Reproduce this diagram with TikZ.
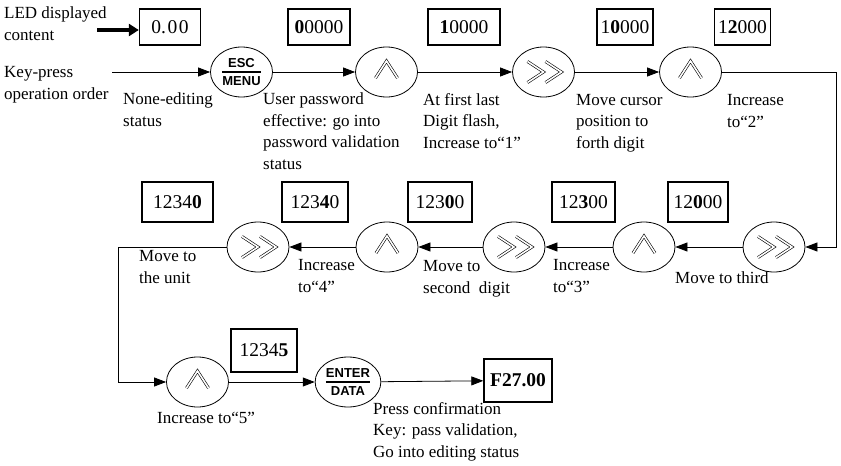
\documentclass[tikz,border=0pt]{standalone}
\usepackage{amsmath}
\usepackage{fontspec}
\setmainfont{Liberation Serif}
\setsansfont{Liberation Sans}
\usetikzlibrary{shapes.geometric,arrows.meta,positioning}

\newcommand{\keyfnt}{\sffamily\bfseries\fontsize{13}{13}\selectfont}
\newcommand{\keylbl}[2]{$\genfrac{}{}{1.2pt}{0}{\mbox{\keyfnt #1}}{\mbox{\keyfnt #2}}$}

\begin{document}
\begin{tikzpicture}[x=1pt, y=-1pt,
    lcd/.style={draw, line width=1.4pt, minimum height=36pt, inner sep=0pt, font=\fontsize{19.5}{20}\selectfont},
    key/.style={draw, ellipse, line width=0.8pt, minimum width=62pt, minimum height=50pt, inner sep=0pt},
    keysym/.style={double, double distance=1.6pt, line width=0.6pt},
    keyup/.style={key, path picture={
        \draw[keysym] ([shift={(-11,6)}]path picture bounding box.center) -- ++(11,-17) -- ++(11,17);}},
    keyright/.style={key, path picture={
        \foreach \dx in {-16,2}
          \draw[keysym] ([shift={(\dx,-10.5)}]path picture bounding box.center) -- ++(16,10.5) -- ++(-16,10.5);}},
    flow/.style={line width=0.8pt, -{Triangle[length=12pt,width=9pt]}},
    note/.style={anchor=base west, align=left, inner sep=0pt, font=\fontsize{17}{21.5}\selectfont}]
    \useasboundingbox (0,0) rectangle (841,466);

    % LED display contents
    \node[lcd, minimum width=61pt] (b0) at (170,27) {0.\kern1.5pt0\kern1.5pt0};
    \node[lcd, minimum width=62pt] (b1) at (319,27) {\textbf{0}0000};
    \node[lcd, minimum width=72pt] (b2) at (464,27) {\textbf{1}0000};
    \node[lcd, minimum width=56pt] (b3) at (625,27) {1\textbf{0}000};
    \node[lcd, minimum width=56pt] (b4) at (742.5,27) {1\textbf{2}000};
    \node[lcd, minimum width=60pt, minimum height=40pt] (b5) at (698,202) {12\textbf{0}00};
    \node[lcd, minimum width=63pt, minimum height=40pt] (b6) at (583.5,202) {12\textbf{3}00};
    \node[lcd, minimum width=64pt, minimum height=40pt] (b7) at (440,202) {123\textbf{0}0};
    \node[lcd, minimum width=66pt, minimum height=40pt] (b8) at (315,202) {123\textbf{4}0};
    \node[lcd, minimum width=71pt, minimum height=40pt] (b9) at (177.5,202) {1234\textbf{0}};
    \node[lcd, minimum width=66pt, minimum height=43pt] (b10) at (264,350.5) {1234\textbf{5}};
    \node[lcd, minimum width=68pt, minimum height=43pt] (b11) at (518,380.5) {\textbf{F27.00}};

    % keys
    \node[key] (esc) at (241.5,72) {\keylbl{ESC}{MENU}};
    \node[keyup] (up1) at (386.5,72) {};
    \node[keyright] (rt1) at (543.5,72) {};
    \node[keyup] (up2) at (690.5,72) {};
    \node[keyright] (rt2) at (774,247) {};
    \node[keyup] (up3) at (644,247) {};
    \node[keyright] (rt3) at (514,247) {};
    \node[keyup] (up4) at (387,247) {};
    \node[keyright] (rt4) at (258,247) {};
    \node[keyup] (up5) at (197.5,382) {};
    \node[key] (ent) at (348,382) {\keylbl{ENTER}{DATA}};

    % descriptions (placed at the baseline of their last line)
    \node[note] (ledlbl) at (4,40) {LED displayed\\content};
    \node[note] (kplbl) at (4,99) {Key-press\\operation order};
    \node[note] (l1) at (123,126) {None-editing\\status};
    \node[note] (l2) at (263,169) {User password\\effective: go into\\password validation\\status};
    \node[note] (l3) at (423,148) {At first last\\Digit flash,\\Increase to“1”};
    \node[note] (l4) at (576,148) {Move cursor\\position to\\forth digit};
    \node[note] (l5) at (727,127) {Increase\\to“2”};
    \node[note] (l6) at (675,283) {Move to third};
    \node[note] (l7) at (553,292) {Increase\\to“3”};
    \node[note] (l8) at (423,293) {Move to\\second\ \ digit};
    \node[note] (l9) at (298,292) {Increase\\to“4”};
    \node[note] (l10) at (139,283) {Move to\\the unit};
    \node[note] (l11) at (157,423) {Increase to“5”};
    \node[note] (l12) at (373,457) {Press confirmation\\Key: pass validation,\\Go into editing status};

    % connectors
    \coordinate (ledtail) at (97,30);
    \draw[line width=4.5pt, -{Triangle[length=10pt,width=12pt]}] (ledtail) -- (b0.west |- ledtail);
    \coordinate (kpstart) at (112,72);
    \draw[flow] (kpstart) -- (esc);
    \draw[flow] (esc) -- (up1);
    \draw[flow] (up1) -- (rt1);
    \draw[flow] (rt1) -- (up2);
    \coordinate (turnR) at (836,72);
    \draw[flow] (up2) -- (turnR) |- (rt2);
    \draw[flow] (rt2) -- (up3);
    \draw[flow] (up3) -- (rt3);
    \draw[flow] (rt3) -- (up4);
    \draw[flow] (up4) -- (rt4);
    \coordinate (turnL) at (118,247);
    \draw[flow] (rt4) -- (turnL) |- (up5);
    \draw[flow] (up5) -- (ent);
    \draw[flow] (ent) -- (b11);
\end{tikzpicture}
\end{document}
